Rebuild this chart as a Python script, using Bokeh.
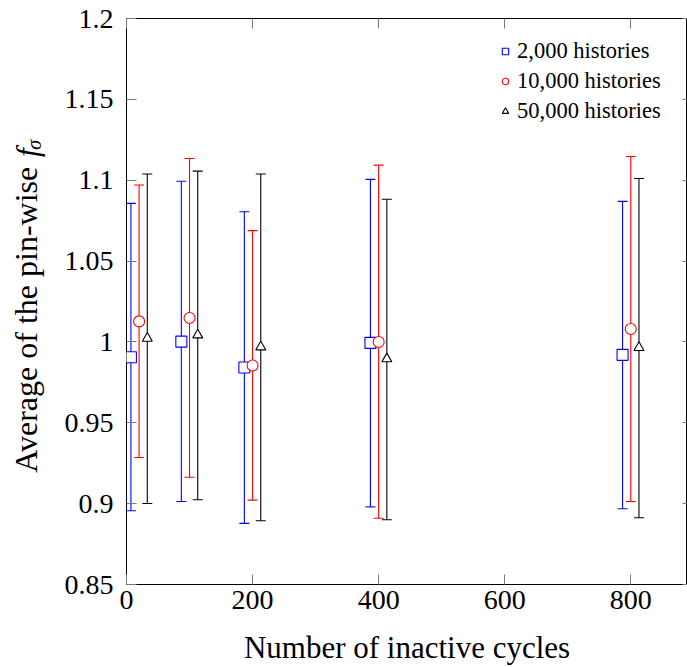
import math

from bokeh.plotting import figure
from bokeh.layouts import row
from bokeh.models import (ColumnDataSource, Range1d, LinearAxis, FixedTicker,
                          Legend, LegendItem, CustomLabelingPolicy)
from bokeh.transform import dodge
from bokeh.core.properties import value
from bokeh.embed import file_html
from bokeh.resources import INLINE

# Number of inactive cycles (group positions)
cycles = [20, 100, 200, 400, 800]

# Average pin-wise f_sigma with its lower / upper error bounds
mean_2k = [0.9905, 1.0002, 0.9842, 0.9994, 0.9920]
low_2k = [0.8956, 0.9013, 0.8878, 0.8980, 0.8968]
up_2k = [1.0857, 1.0994, 1.0805, 1.1005, 1.0869]

mean_10k = [1.0127, 1.0148, 0.9854, 1.0000, 1.0080]
low_10k = [0.9285, 0.9163, 0.9022, 0.8910, 0.9013]
up_10k = [1.0970, 1.1134, 1.0688, 1.1093, 1.1147]

mean_50k = [1.0022, 1.0043, 0.9969, 0.9895, 0.9965]
low_50k = [0.9001, 0.9024, 0.8894, 0.8900, 0.8913]
up_50k = [1.1038, 1.1056, 1.1038, 1.0882, 1.1011]

x_ticks = [0, 200, 400, 600, 800]
y_ticks = [0.85, 0.9, 0.95, 1.0, 1.05, 1.1, 1.15, 1.2]
y_tick_labels = ["0.85", "0.9", "0.95", "1", "1.05", "1.1", "1.15", "1.2"]

SERIF = "Liberation Serif"
W, H = 687, 667
TITLE_W = 60  # strip holding the rotated y-axis title

# ---------------------------------------------------------------- main plot
p = figure(width=W - TITLE_W, height=H, output_backend="svg",
           toolbar_location=None,
           x_range=Range1d(0, 890), y_range=Range1d(0.85, 1.2),
           min_border_left=126 - TITLE_W, min_border_right=0,
           min_border_top=18, min_border_bottom=82)
p.xgrid.visible = False
p.ygrid.visible = False
p.outline_line_color = "black"
p.outline_line_width = 1
p.outline_line_alpha = 1.0
p.background_fill_color = "white"
p.border_fill_color = "white"


def style_axis(ax, tick_len=10):
    ax.axis_line_color = None
    ax.major_tick_in = tick_len
    ax.major_tick_out = 0
    ax.minor_tick_in = 0
    ax.minor_tick_out = 0
    ax.major_tick_line_color = "#7a7a7a"
    ax.major_tick_line_width = 1
    ax.major_label_text_font = SERIF
    ax.major_label_text_font_size = "28px"
    ax.major_label_text_color = "black"
    ax.axis_label_text_font = SERIF
    ax.axis_label_text_font_size = "31px"
    ax.axis_label_text_font_style = "normal"
    ax.axis_label_text_color = "black"


def tick_marks_only(ax):
    # keep the tick marks, draw no labels at all
    ax.major_label_policy = CustomLabelingPolicy(code="return new Set()")
    ax.major_label_text_font_size = "0px"
    ax.major_label_standoff = 0


xa = p.xaxis[0]
xa.ticker = FixedTicker(ticks=x_ticks)
style_axis(xa)
xa.major_label_standoff = 6
xa.axis_label = "Number of inactive cycles"
xa.axis_label_standoff = 18

ya = p.yaxis[0]
ya.ticker = FixedTicker(ticks=y_ticks)
ya.major_label_overrides = dict(zip(y_ticks, y_tick_labels))
style_axis(ya)
ya.major_label_standoff = 13

# mirrored tick marks on the top and right edges
top = LinearAxis(ticker=FixedTicker(ticks=x_ticks))
style_axis(top)
tick_marks_only(top)
p.add_layout(top, "above")

right = LinearAxis(ticker=FixedTicker(ticks=y_ticks))
style_axis(right, tick_len=5)
tick_marks_only(right)
p.add_layout(right, "right")

series = [
    ("2,000 histories", mean_2k, low_2k, up_2k, "#0000ff", "square", 11, -13),
    ("10,000 histories", mean_10k, low_10k, up_10k, "#ff0000", "circle", 11, 0),
    ("50,000 histories", mean_50k, low_50k, up_50k, "black", "triangle", 10, 13),
]

legend_items = []
for label, mean, low, up, color, marker, size, shift in series:
    src = ColumnDataSource(dict(x=cycles, mean=mean, lower=low, upper=up))
    xs = dodge("x", shift)
    p.segment(x0=xs, y0="lower", x1=xs, y1="upper", source=src,
              line_color=color, line_width=1.1)
    p.scatter(x=xs, y="upper", source=src, marker="dash", size=10,
              line_color=color, line_width=1.1)
    p.scatter(x=xs, y="lower", source=src, marker="dash", size=10,
              line_color=color, line_width=1.1)
    r = p.scatter(x=xs, y="mean", source=src, marker=marker, size=size,
                  line_color=color, fill_color="white", line_width=1.1)
    legend_items.append(LegendItem(label=label, renderers=[r]))

legend = Legend(items=legend_items, location=(371, 460),
                label_text_font=SERIF, label_text_font_size="22.5px",
                label_text_color="black",
                glyph_width=16, glyph_height=16, label_standoff=4,
                spacing=4, padding=0, margin=0,
                border_line_alpha=0, background_fill_alpha=0)
p.add_layout(legend)

# ------------------------------------------------- y-axis title strip
# plain pixel coordinates: x from the left edge, y from the bottom edge;
# each piece is anchored at its own centre
t = figure(width=TITLE_W, height=H, output_backend="svg",
           toolbar_location=None, x_axis_type=None, y_axis_type=None,
           x_range=Range1d(0, TITLE_W), y_range=Range1d(0, H),
           min_border=0)
t.xgrid.visible = False
t.ygrid.visible = False
t.outline_line_color = None
t.background_fill_color = "white"
t.border_fill_color = "white"

title_parts = ["Average of the pin-wise", "f", "σ"]
title_x = [25, 27, 33]
title_y = [H - 355, H - 158, H - 149]
title_size = ["32px", "31px", "20px"]
title_style = ["normal", "italic", "italic"]
t.text(x=title_x, y=title_y, text=title_parts, angle=math.pi / 2,
       text_font=value(SERIF), text_font_size=title_size,
       text_font_style=title_style, text_align="center",
       text_baseline="middle", text_color="black")

layout = row(t, p, spacing=0)
open("out.html", "w").write(file_html(layout, INLINE))
